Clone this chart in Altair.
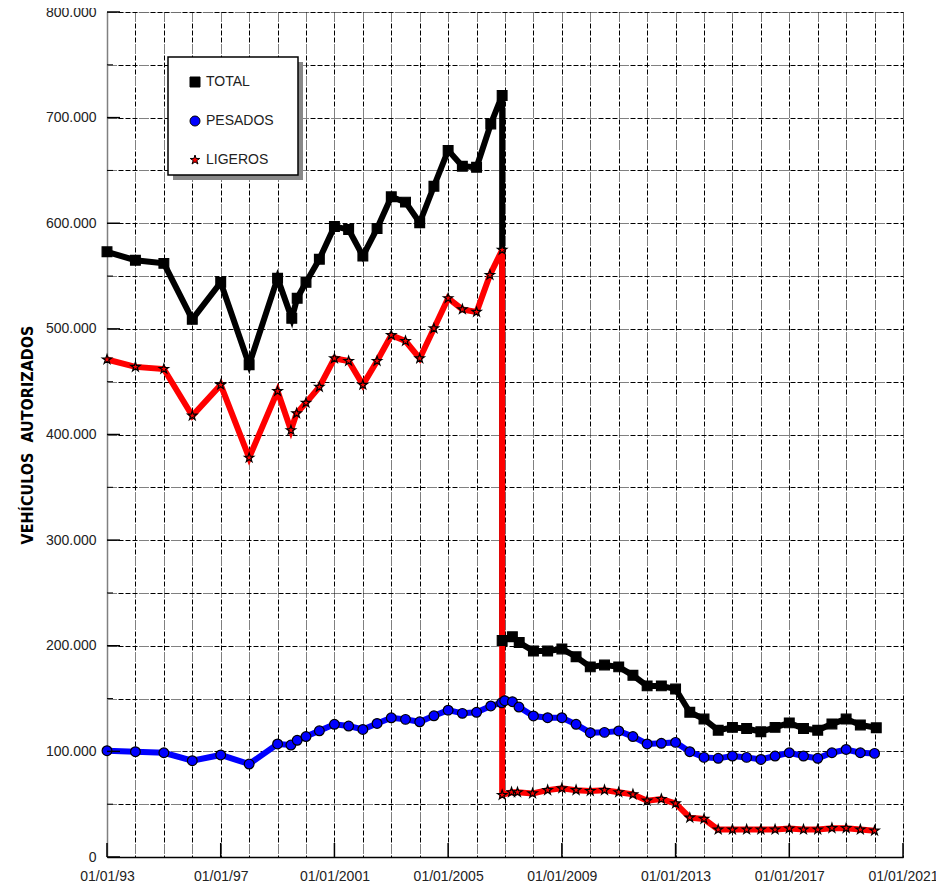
import altair as alt
import pandas as pd

# ---------------- data (values in thousands) ----------------
series_names = ["TOTAL", "PESADOS", "LIGEROS"]
series_colors = ["#000000", "#0000ff", "#ff0000"]
STAR = ("M0,-1L0.2245,-0.309L0.951,-0.309L0.363,0.118L0.588,0.809L0,0.382"
        "L-0.588,0.809L-0.363,0.118L-0.951,-0.309L-0.2245,-0.309Z")
series_shapes = ["square", "circle", STAR]

total_x = [1993, 1994, 1995, 1996, 1997, 1998, 1999, 1999.5, 1999.69, 2000, 2000.47,
           2001, 2001.5, 2002, 2002.5, 2003, 2003.5, 2004, 2004.5, 2005, 2005.5, 2006,
           2006.5, 2006.9, 2006.9, 2007.26, 2007.5, 2008, 2008.5, 2009, 2009.5, 2010,
           2010.5, 2011, 2011.5, 2012, 2012.5, 2013, 2013.5, 2014, 2014.5, 2015, 2015.5,
           2016, 2016.5, 2017, 2017.5, 2018, 2018.5, 2019, 2019.5, 2020.06]
total_y = [573, 565, 562, 509, 544, 466, 548, 510, 529, 544, 566,
           597, 594, 569, 595, 625, 620, 600.5, 635, 669, 654, 653,
           694, 721, 205, 208.5, 203, 195, 195, 197, 189.6, 180,
           181.8, 180, 172, 162, 162, 159, 137, 130.6, 120, 122.7, 121.7,
           118.6, 122.7, 127, 121.7, 120, 126, 130.6, 125, 122.3]

pesados_x = [1993, 1994, 1995, 1996, 1997, 1998, 1999, 1999.47, 1999.69, 2000, 2000.47,
             2001, 2001.5, 2002, 2002.5, 2003, 2003.5, 2004, 2004.5, 2005, 2005.5, 2006,
             2006.5, 2006.88, 2006.99, 2007.26, 2007.49, 2008, 2008.5, 2009, 2009.5, 2010,
             2010.5, 2011, 2011.5, 2012, 2012.5, 2013, 2013.5, 2014, 2014.5, 2015, 2015.5,
             2016, 2016.5, 2017, 2017.5, 2018, 2018.5, 2019, 2019.5, 2020]
pesados_y = [100.6, 99.7, 98.7, 91.2, 96.6, 88, 107, 106, 110.5, 114, 119.5,
             125.6, 124, 120.8, 126.4, 131.8, 130.3, 128, 133.7, 139, 136, 137,
             143, 146, 148, 147, 142, 133.5, 131.9, 131.9, 125.6, 117.7,
             118, 119.3, 114, 107, 107.6, 108.5, 99.7, 94.3, 93.4, 95.6, 94.3,
             92.4, 95.6, 98.7, 95.6, 93.4, 98.7, 101.8, 98.7, 98.1]

ligeros_x = [1993, 1994, 1995, 1996, 1997, 1998, 1999, 1999.47, 1999.67, 2000, 2000.47,
             2001, 2001.5, 2002, 2002.5, 2003, 2003.5, 2004, 2004.5, 2005, 2005.5, 2006,
             2006.47, 2006.9, 2006.9, 2007.23, 2007.44, 2007.97, 2008.5, 2009, 2009.5, 2010,
             2010.5, 2011, 2011.5, 2012, 2012.5, 2013, 2013.5, 2014, 2014.5, 2015, 2015.5,
             2016, 2016.5, 2017, 2017.5, 2018, 2018.5, 2019, 2019.5, 2020]
ligeros_y = [471, 464, 462, 417.8, 447, 378, 441, 404, 420, 430, 445,
             472, 469.6, 447, 469.6, 494, 488.5, 472, 500.4, 529, 518.5, 516,
             551, 574.7, 58.7, 61.3, 61.3, 60.2, 63.3, 65, 63.3, 62.5,
             63.3, 61.3, 59.3, 53.3, 54.9, 50.7, 37.2, 36, 26, 26, 26,
             26, 26, 27, 26, 26, 27.3, 27.3, 26, 24.9]

x_label_years = list(range(1993, 2022, 4))
x_grid_years = list(range(1993, 2022))
y_grid_values = list(range(0, 800001, 50000))
y_major_values = list(range(0, 800001, 100000))
y_minor_values = list(range(50000, 800000, 100000))

rows = []
for name, xs, ys in [("TOTAL", total_x, total_y),
                     ("PESADOS", pesados_x, pesados_y),
                     ("LIGEROS", ligeros_x, ligeros_y)]:
    for i, (a, b) in enumerate(zip(xs, ys)):
        rows.append({"serie": name, "fecha": a, "valor": b * 1000, "ord": i})
df = pd.DataFrame(rows)

FONT = "Liberation Sans"
TITLE_FONT = "Liberation Sans Narrow, DejaVu Sans Condensed, Liberation Sans, sans-serif"
GRID_DASH = [1, 1, 1, 1, 1, 1, 1, 1, 1, 2, 5, 2, 5, 2, 5, 2]

x_scale = alt.Scale(domain=[1993, 2021], nice=False, zero=False)
y_scale = alt.Scale(domain=[0, 800000], nice=False)

x_axis = alt.Axis(
    orient="bottom",
    values=x_grid_years, grid=True, gridColor="black", gridDash=GRID_DASH, gridWidth=1,
    ticks=False, domainColor="black", domainWidth=1.5, title=None,
    labelExpr="datum.value % 4 == 1 ? '01/01/' + (datum.value < 2000 ? substring(toString(datum.value), 2, 4) : toString(datum.value)) : ''",
    labelFont=FONT, labelFontSize=14, labelColor="#222", labelPadding=12,
    labelOverlap=False, labelFlush=False, labelBound=False,
)
y_axis = alt.Axis(
    orient="left",
    values=y_grid_values, grid=True, gridColor="black", gridDash=GRID_DASH, gridWidth=1,
    ticks=False, domainColor="#808080", domainWidth=1.5,
    labelExpr="datum.value % 100000 == 0 ? (datum.value == 0 ? '0' : format(datum.value / 1000, 'd') + '.000') : ''",
    labelFont=FONT, labelFontSize=14, labelColor="#222", labelPadding=11,
    labelOverlap=False,
    title="VEHÍCULOS\u00a0\u00a0AUTORIZADOS", titleFont=TITLE_FONT,
    titleFontSize=16, titleFontWeight="bold", titleColor="black", titlePadding=10,
)

X = dict(scale=x_scale, axis=x_axis)
Y = dict(scale=y_scale, axis=y_axis)

base = alt.Chart(df)


def line_layer(name, color):
    return base.transform_filter(alt.datum.serie == name).mark_line(
        strokeWidth=6, color=color, strokeJoin="miter"
    ).encode(
        x=alt.X("fecha:Q", **X),
        y=alt.Y("valor:Q", **Y),
        order=alt.Order("ord:Q"),
    )


lines = [line_layer(n, c) for n, c in zip(series_names, series_colors)]

legend = alt.Legend(title=None, orient="none", legendX=81, legendY=63,
                    labelFont=FONT, labelFontSize=14, labelColor="#222",
                    rowPadding=25, padding=0, symbolSize=100,
                    symbolStrokeColor="black", symbolStrokeWidth=1,
                    labelOffset=4)

points = base.mark_point(filled=True, stroke="black", strokeWidth=1.2, opacity=1, size=95).encode(
    x=alt.X("fecha:Q", **X),
    y=alt.Y("valor:Q", **Y),
    color=alt.Color("serie:N", scale=alt.Scale(domain=series_names, range=series_colors),
                    legend=legend),
    shape=alt.Shape("serie:N", scale=alt.Scale(domain=series_names, range=series_shapes),
                    legend=legend),
)

# x-axis ticks at labelled dates (drawn inward)
tick_df = pd.DataFrame({"fecha": x_label_years})
x_ticks = alt.Chart(tick_df).mark_rule(color="black", strokeWidth=1.5).encode(
    x=alt.X("fecha:Q", **X), y=alt.value(845), y2=alt.value(831)
)
ytick_df = pd.DataFrame({"valor": y_major_values})
y_ticks = alt.Chart(ytick_df).mark_rule(color="black", strokeWidth=1.5).encode(
    y=alt.Y("valor:Q", **Y), x=alt.value(0), x2=alt.value(13)
)
ytick2_df = pd.DataFrame({"valor": y_minor_values})
y_ticks2 = alt.Chart(ytick2_df).mark_rule(color="black", strokeWidth=1).encode(
    y=alt.Y("valor:Q", **Y), x=alt.value(0), x2=alt.value(6)
)

# legend frame with drop shadow
box_df = pd.DataFrame({"k": [0]})
shadow = alt.Chart(box_df).mark_rect(color="#888888").encode(
    x=alt.value(66), x2=alt.value(196), y=alt.value(50), y2=alt.value(168)
)
box = alt.Chart(box_df).mark_rect(fill="white", stroke="black", strokeWidth=1.5).encode(
    x=alt.value(61), x2=alt.value(191), y=alt.value(45), y2=alt.value(163)
)

chart = alt.layer(
    *lines, points, x_ticks, y_ticks, y_ticks2, shadow, box
).properties(
    width=796, height=845,
    autosize=alt.AutoSizeParams(type="none"),
    padding={"left": 99, "top": 4, "right": 33, "bottom": 28},
).configure_view(
    stroke="#777777", strokeWidth=1
).configure(background="white")

chart.save("out.html", embed_options={"renderer": "svg", "actions": False})
